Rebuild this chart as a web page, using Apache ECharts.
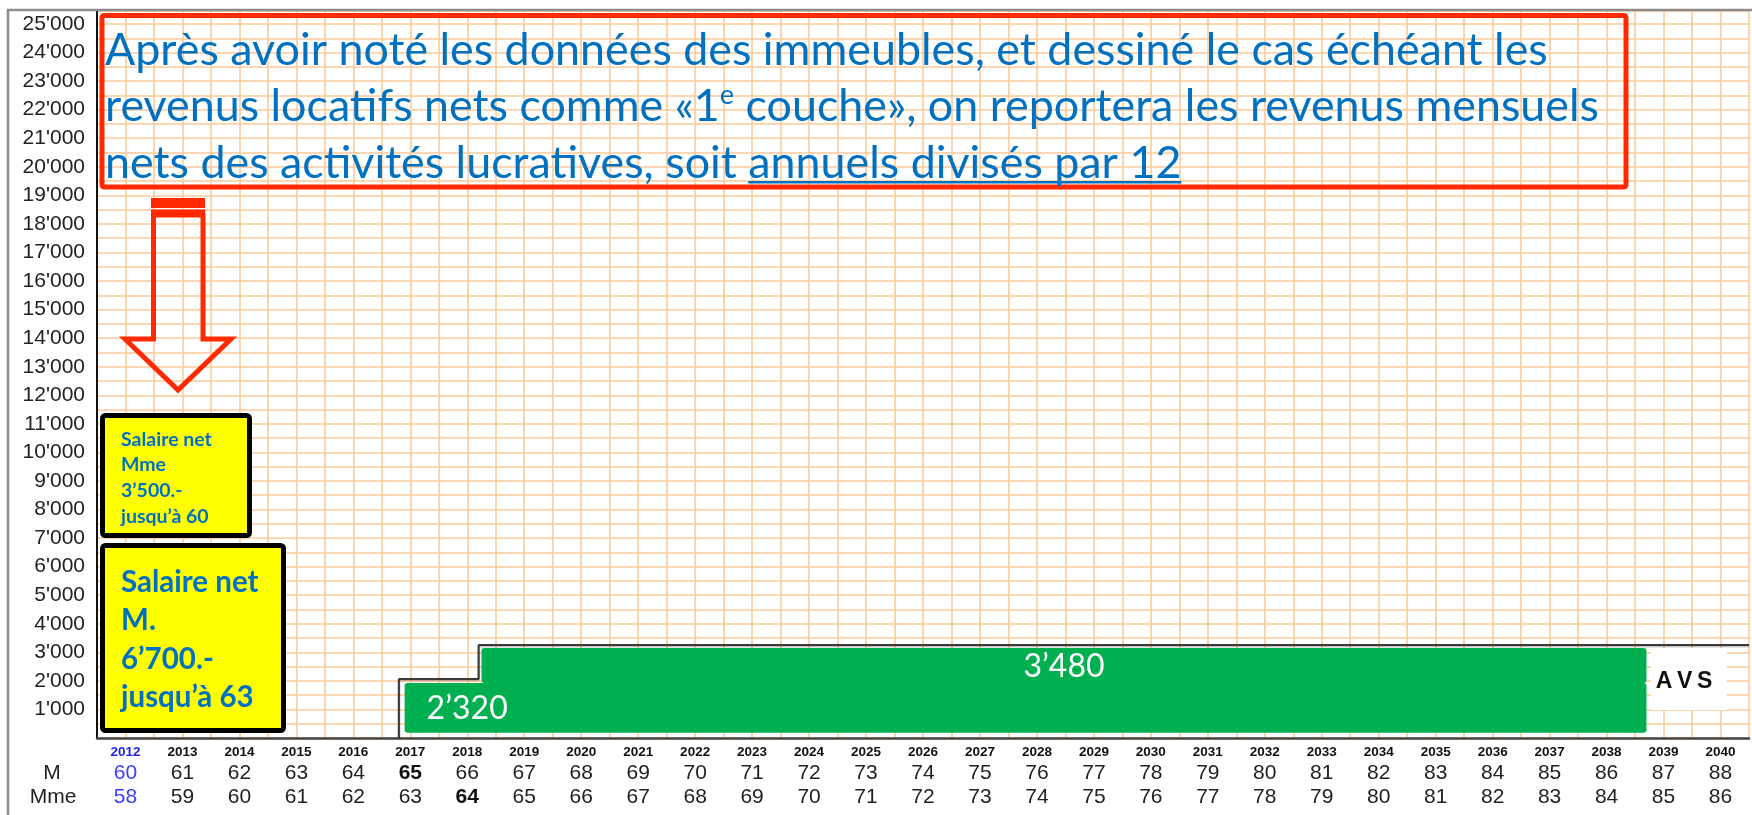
<!DOCTYPE html>
<html>
<head>
<meta charset="utf-8">
<script src="https://cdn.jsdelivr.net/npm/echarts@6/dist/echarts.min.js"></script>
<style>
  html, body { margin: 0; padding: 0; background: #fff; }
  #chart { width: 1752px; height: 815px; }
</style>
</head>
<body>
<div id="chart"></div>
<script>
const years = [2012, 2013, 2014, 2015, 2016, 2017, 2018, 2019, 2020, 2021, 2022, 2023, 2024, 2025, 2026,
  2027, 2028, 2029, 2030, 2031, 2032, 2033, 2034, 2035, 2036, 2037, 2038, 2039, 2040];
const agesM = [60, 61, 62, 63, 64, 65, 66, 67, 68, 69, 70, 71, 72, 73, 74,
  75, 76, 77, 78, 79, 80, 81, 82, 83, 84, 85, 86, 87, 88];
const agesMme = [58, 59, 60, 61, 62, 63, 64, 65, 66, 67, 68, 69, 70, 71, 72,
  73, 74, 75, 76, 77, 78, 79, 80, 81, 82, 83, 84, 85, 86];
const currentYear = 2012;
const retireM = 2017;
const retireMme = 2018;

// AVS layers as drawn: start year, end year, low, high
const avsStart = [2016.9, 2018.25];
const avsEnd = [2038.7, 2038.7];
const avsLow = [180, 1930];
const avsHigh = [1930, 3150];
const avsLabels = ["2\u2019320", "3\u2019480"];

// stepped outline around the AVS block
const outlineX = [2016.8, 2016.8, 2018.2, 2018.2, 2040.5];
const outlineY = [0, 2070, 2070, 3260, 3260];

const noteLine1 = "Après avoir noté les données des immeubles, et dessiné le cas échéant les";
const noteLine2a = "revenus locatifs nets comme «1";
const noteLine2b = " couche», on reportera les revenus mensuels";
const noteLine3a = "nets des activités lucratives, soit ";
const noteLine3b = "annuels divisés par 12";
const boxMme = ["Salaire net", "Mme", "3\u2019500.-", "jusqu\u2019à 60"];
const boxM = ["Salaire net", "M.", "6\u2019700.-", "jusqu\u2019à 63"];

const blue = "#0070c0";
const red = "#ff2a00";
const gridColor = "#fcca9a";

const ctx = document.createElement("canvas").getContext("2d");
function textWidth(text, font) {
  ctx.font = font;
  return ctx.measureText(text).width;
}

// fit the note font so the first line spans like the picture
const noteSize = Math.round(40 * 1443 / textWidth(noteLine1, "40px Lato") * 10) / 10;
const noteFont = noteSize + "px Lato";
const line3aWidth = textWidth(noteLine3a, noteFont);
const line3bWidth = textWidth(noteLine3b, noteFont);

function isYear(v) {
  return Math.abs(v - Math.round(v)) < 1e-6;
}

function yearLabel(value) {
  if (!isYear(value)) return "";
  const i = years.indexOf(Math.round(value));
  if (i < 0) return "";
  const y = years[i];
  const yk = y === currentYear ? "yb" : "y";
  const mk = y === currentYear ? "nb" : (y === retireM ? "nd" : "n");
  const fk = y === currentYear ? "fb" : (y === retireMme ? "fd" : "f");
  return `{${yk}|${y}}\n{${mk}|${agesM[i]}}\n{${fk}|${agesMme[i]}}`;
}

const numStyle = { fontFamily: "Liberation Sans", fontSize: 21, color: "#222", lineHeight: 24 };
const yearStyle = { fontFamily: "Liberation Sans", fontSize: 13.5, fontWeight: "bold", color: "#111", lineHeight: 17 };

const chart = echarts.init(document.getElementById("chart"));
chart.setOption({
  animation: false,
  backgroundColor: "#fff",
  grid: { left: 97, right: 0, top: 11, bottom: 77 },
  xAxis: {
    type: "value",
    min: 2011.5,
    max: 2040.5,
    interval: 0.5,
    axisLine: { show: true, lineStyle: { color: "#444", width: 2.5 } },
    axisTick: { show: false },
    splitLine: { show: true, lineStyle: { color: gridColor, width: 1.6 } },
    axisLabel: {
      margin: 6,
      formatter: yearLabel,
      rich: {
        y: yearStyle,
        yb: Object.assign({}, yearStyle, { color: "#2222ee" }),
        n: numStyle,
        nb: Object.assign({}, numStyle, { color: "#3d3dff" }),
        nd: Object.assign({}, numStyle, { fontWeight: "bold", color: "#111" }),
        f: numStyle,
        fb: Object.assign({}, numStyle, { color: "#3d3dff" }),
        fd: Object.assign({}, numStyle, { fontWeight: "bold", color: "#111" })
      }
    }
  },
  yAxis: {
    type: "value",
    min: 0,
    max: 25455,
    interval: 500,
    axisLine: { show: true, lineStyle: { color: "#111", width: 2 } },
    axisTick: { show: false },
    splitLine: { show: true, lineStyle: { color: gridColor, width: 1.6 } },
    axisLabel: {
      margin: 12,
      fontFamily: "Liberation Sans",
      fontSize: 21,
      color: "#222",
      formatter: (v) => (v > 0 && v <= 25000 && v % 1000 === 0) ? `${v / 1000}'000` : ""
    }
  },
  series: [
    {
      type: "custom",
      data: avsStart.map((s, i) => [s, avsEnd[i], avsLow[i], avsHigh[i]]),
      encode: { x: [0, 1], y: [2, 3] },
      z: 3,
      renderItem(params, api) {
        const p0 = api.coord([api.value(0), api.value(3)]);
        const p1 = api.coord([api.value(1), api.value(2)]);
        const i = params.dataIndex;
        return {
          type: "group",
          children: [
            {
              type: "rect",
              shape: { x: p0[0], y: p0[1], width: p1[0] - p0[0], height: p1[1] - p0[1], r: 3 },
              style: { fill: "#00b050" }
            },
            {
              type: "text",
              z2: 5,
              style: {
                text: avsLabels[i],
                x: i === 0 ? p0[0] + 22 : (p0[0] + p1[0]) / 2,
                y: (p0[1] + p1[1]) / 2 + 1,
                align: i === 0 ? "left" : "center",
                verticalAlign: "middle",
                fill: "#fff",
                font: "32px Lato"
              }
            }
          ]
        };
      }
    },
    {
      type: "line",
      data: outlineX.map((x, i) => [x, outlineY[i]]),
      symbol: "none",
      z: 2,
      lineStyle: { color: "#3a3a3a", width: 2, shadowColor: "rgba(0,0,0,0.35)", shadowBlur: 2, shadowOffsetY: 1 }
    }
  ],
  graphic: [
    { type: "polyline", z: 20, shape: { points: [[8, 815], [8, 10], [1752, 10]] }, style: { stroke: "#8c8c8c", lineWidth: 2.5, fill: null } },
    // note box
    { type: "rect", z: 20, shape: { x: 102, y: 15.5, width: 1524, height: 171.5, r: 2 }, style: { stroke: red, lineWidth: 5, fill: null } },
    { type: "text", z: 21, style: { text: noteLine1, x: 105, y: 51, font: noteFont, fill: blue, verticalAlign: "middle" } },
    {
      type: "text", z: 21,
      style: {
        text: `{a|${noteLine2a}}{s|e}{a|${noteLine2b}}`,
        x: 105, y: 107, verticalAlign: "middle",
        rich: {
          a: { font: noteFont, fill: blue, lineHeight: 50 },
          s: { fontFamily: "Lato", fontSize: Math.round(noteSize * 0.6), fill: blue, lineHeight: 34, verticalAlign: "top" }
        }
      }
    },
    { type: "text", z: 21, style: { text: noteLine3a + noteLine3b, x: 105, y: 164, font: noteFont, fill: blue, verticalAlign: "middle" } },
    { type: "rect", z: 21, shape: { x: 105 + line3aWidth, y: 181, width: line3bWidth, height: 2.5 }, style: { fill: blue } },
    // arrow
    {
      type: "polyline", z: 20,
      shape: { points: [[153.5, 213], [153.5, 339], [125, 339], [178, 390], [231, 339], [203, 339], [203, 213]] },
      style: { stroke: red, lineWidth: 5, fill: null, lineJoin: "miter" }
    },
    { type: "rect", z: 20, shape: { x: 151, y: 198, width: 54, height: 10 }, style: { fill: red } },
    { type: "rect", z: 20, shape: { x: 151, y: 209.5, width: 54, height: 8 }, style: { fill: red } },
    // salary boxes
    { type: "rect", z: 20, shape: { x: 102.5, y: 415.5, width: 147, height: 120, r: 3 }, style: { fill: "#ffff00", stroke: "#000", lineWidth: 5 } },
    {
      type: "text", z: 21,
      style: { text: boxMme.join("\n"), x: 121, y: 478, verticalAlign: "middle", font: "bold 19.5px Lato", fill: blue, lineHeight: 25.7 }
    },
    { type: "rect", z: 20, shape: { x: 102.5, y: 545.5, width: 181, height: 185, r: 3 }, style: { fill: "#ffff00", stroke: "#000", lineWidth: 5 } },
    {
      type: "text", z: 21,
      style: { text: boxM.join("\n"), x: 121, y: 640, verticalAlign: "middle", font: "bold 29.5px Lato", fill: blue, lineHeight: 38.3 }
    },
    // AVS tag
    { type: "rect", z: 20, shape: { x: 1651, y: 648, width: 76, height: 62 }, style: { fill: "#fff" } },
    { type: "text", z: 21, style: { text: "A\u2009V\u2009S", x: 1684, y: 682, align: "center", verticalAlign: "middle", font: "bold 23px Liberation Sans", fill: "#111" } },
    // row titles
    { type: "text", z: 21, style: { text: "M", x: 52, y: 773, align: "center", verticalAlign: "middle", font: "21px Liberation Sans", fill: "#222" } },
    { type: "text", z: 21, style: { text: "Mme", x: 53, y: 797, align: "center", verticalAlign: "middle", font: "21px Liberation Sans", fill: "#222" } }
  ]
});
</script>
</body>
</html>
